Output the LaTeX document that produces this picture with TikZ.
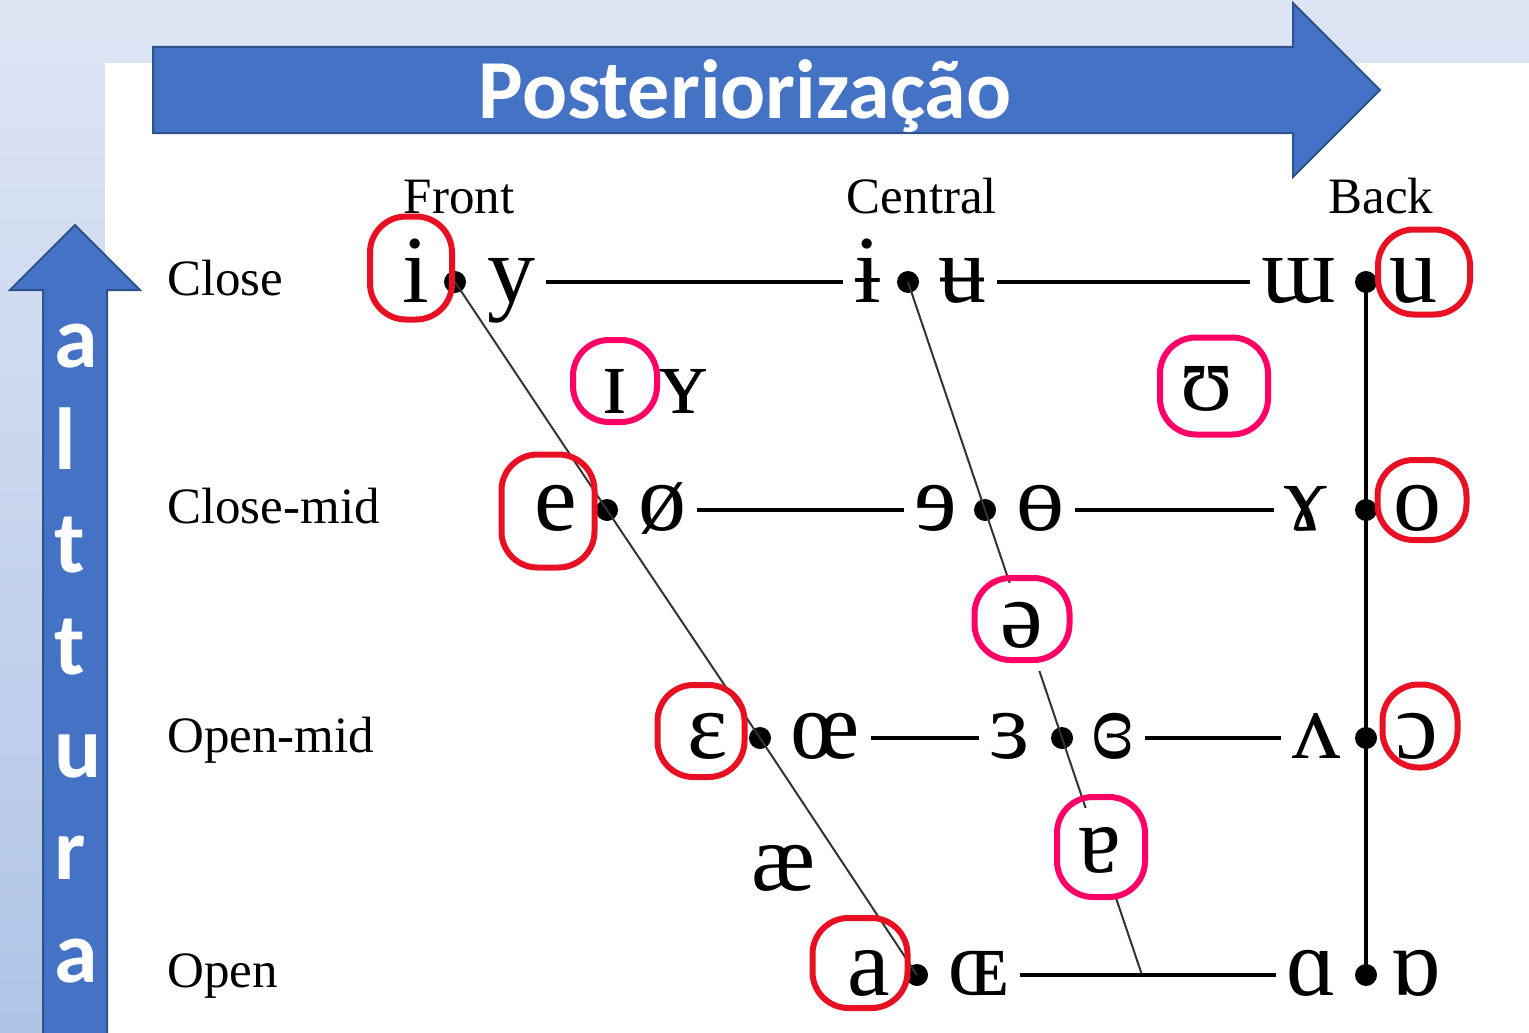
\documentclass[tikz,border=0pt]{standalone}
\usepackage{fontspec}
\setmainfont{Liberation Serif}
\newfontfamily\calibri{Carlito}
\definecolor{slideblue}{HTML}{4472C4}
\definecolor{slideedge}{HTML}{2F528F}
\definecolor{inkred}{HTML}{E81123}
\definecolor{inkpink}{HTML}{FF0066}
\newcommand{\ipa}{\fontsize{96}{96}\selectfont}

\begin{document}
\begin{tikzpicture}[x=1pt,y=-1pt]
                        \tikzstyle{sym}=[font=\ipa, text height=64pt, text depth=24pt, inner xsep=11pt, inner ysep=0pt]
                        \tikzstyle{dot}=[circle, fill=black, inner sep=0pt, minimum size=22pt]
                        \tikzstyle{label}=[font=\fontsize{51}{51}\selectfont, inner sep=0pt]
                        \tikzstyle{rowline}=[line width=3.5pt]
                        \tikzstyle{slant}=[line width=2pt, black!80]
                        \tikzstyle{ring}=[draw, line width=6pt, rounded corners=36pt, inner sep=0pt]
                        \tikzstyle{bigarrow}=[fill=slideblue, draw=slideedge, line width=2pt, line join=miter]
                        \tikzstyle{alt}=[font=\calibri\bfseries\fontsize{88}{88}\selectfont, text=white, inner sep=0pt, anchor=base west]
                        \useasboundingbox (0,0) rectangle (1529,1033);
                        % slide background
                        \fill[top color=slideblue!18, bottom color=slideblue!42] (0,0) rectangle (1529,1033);
                        \fill[white] (105,63) rectangle (1529,1033);
                        % arrows
                        \draw[bigarrow] (153,47) -- (1293,47) -- (1293,3) -- (1380,90) -- (1293,177) -- (1293,133) -- (153,133) -- cycle;
                        \node[font=\calibri\bfseries\fontsize{84}{84}\selectfont, text=white, inner sep=0pt, anchor=base] (title) at (745,118) {Posteriorização};
                        \draw[bigarrow] (43,1045) -- (43,290) -- (10,290) -- (75,225) -- (140,290) -- (107,290) -- (107,1045);
                        \node[alt] (alt1) at (54,367) {a};
                        \node[alt] (alt2) at (54,469.5) {l};
                        \node[alt] (alt3) at (54,572) {t};
                        \node[alt] (alt4) at (54,674.5) {t};
                        \node[alt] (alt5) at (54,777) {u};
                        \node[alt] (alt6) at (54,879.5) {r};
                        \node[alt] (alt7) at (54,982) {a};
                        % column and row labels
                        \node[label, anchor=base] (front) at (459,213) {Front};
                        \node[label, anchor=base] (central) at (922,213) {Central};
                        \node[label, anchor=base] (back) at (1381,213) {Back};
                        \node[label, anchor=base west] (close) at (167,295) {Close};
                        \node[label, anchor=base west] (closemid) at (167,523) {Close-mid};
                        \node[label, anchor=base west] (openmid) at (167,752) {Open-mid};
                        \node[label, anchor=base west] (open) at (167,987) {Open};
                        % dots
                        \node[dot] (cf) at (455,282) {};
                        \node[dot] (cc) at (908,282) {};
                        \node[dot] (cb) at (1366,282) {};
                        \node[dot] (cmf) at (607,510) {};
                        \node[dot] (cmc) at (985,510) {};
                        \node[dot] (cmb) at (1366,510) {};
                        \node[dot] (omf) at (760,738) {};
                        \node[dot] (omc) at (1062,738) {};
                        \node[dot] (omb) at (1366,738) {};
                        \node[dot] (of) at (917,975) {};
                        \node[dot] (ob) at (1366,975) {};
                        \coordinate (oc) at (1142,975);
                        \draw[slant] (cf.center) -- (cmf.center) -- (omf.center) -- (of.center);
                        \draw[slant] (cc.center) -- (cmc.center) -- (omc.center) -- (oc);
                        \draw[rowline] (cb.center) -- (ob.center);
                        % vowels
                        \node[sym] (i) at (416,282) {i};
                        \node[sym] (y) at (511,282) {y};
                        \node[sym] (barI) at (868,282) {ɨ};
                        \node[sym] (barU) at (962,282) {ʉ};
                        \node[sym] (turnM) at (1299,282) {ɯ};
                        \node[sym] (u) at (1413,282) {u};
                        \node[sym] (smallI) at (615,393) {ɪ};
                        \node[sym] (smallY) at (683,393) {ʏ};
                        \node[sym] (upsilon) at (1207,390) {ʊ};
                        \node[sym] (e) at (556,510) {e};
                        \node[sym] (oslash) at (662,510) {ø};
                        \node[sym] (revE) at (936,510) {ɘ};
                        \node[sym] (barO) at (1040,510) {ɵ};
                        \node[sym] (gamma) at (1306,510) {ɤ};
                        \node[sym] (o) at (1417,510) {o};
                        \node[sym, fill=white, inner xsep=4pt] (schwa) at (1022,627) {ə};
                        \node[sym] (epsilon) at (708,738) {ɛ};
                        \node[sym] (oe) at (825,738) {œ};
                        \node[sym] (revEps) at (1010,738) {ɜ};
                        \node[sym] (closedRevEps) at (1113,738) {ɞ};
                        \node[sym] (wedge) at (1316,738) {ʌ};
                        \node[sym] (openO) at (1417,738) {ɔ};
                        \node[sym] (ash) at (784,870) {æ};
                        \node[sym, fill=white, inner xsep=4pt] (turnA) at (1100,852) {ɐ};
                        \node[sym] (a) at (869,975) {a};
                        \node[sym] (OE) at (979,975) {ɶ};
                        \node[sym] (alpha) at (1312,975) {ɑ};
                        \node[sym] (turnAlpha) at (1416,975) {ɒ};
                        \draw[rowline] (y) -- (barI);
                        \draw[rowline] (barU) -- (turnM);
                        \draw[rowline] (oslash) -- (revE);
                        \draw[rowline] (barO) -- (gamma);
                        \draw[rowline] (oe) -- (revEps);
                        \draw[rowline] (closedRevEps) -- (wedge);
                        \draw[rowline] (OE) -- (alpha);
                        % hand-drawn marks
                        \node[ring, inkred, minimum width=82pt, minimum height=103pt] (ring-i) at (411,268) {};
                        \node[ring, inkred, minimum width=92pt, minimum height=85pt] (ring-u) at (1424,272) {};
                        \node[ring, inkpink, minimum width=84pt, minimum height=82pt] (ring-smallI) at (615,381) {};
                        \node[ring, inkpink, minimum width=108pt, minimum height=97pt] (ring-upsilon) at (1214,386) {};
                        \node[ring, inkred, minimum width=93pt, minimum height=113pt] (ring-e) at (548,511) {};
                        \node[ring, inkred, minimum width=89pt, minimum height=80pt] (ring-o) at (1422,500) {};
                        \node[ring, inkpink, minimum width=95pt, minimum height=82pt] (ring-schwa) at (1022,619) {};
                        \node[ring, inkred, minimum width=87pt, minimum height=92pt] (ring-epsilon) at (701,731) {};
                        \node[ring, inkred, minimum width=75pt, minimum height=83pt] (ring-openO) at (1420,726) {};
                        \node[ring, inkpink, minimum width=88pt, minimum height=100pt] (ring-turnA) at (1101,847) {};
                        \node[ring, inkred, minimum width=95pt, minimum height=90pt] (ring-a) at (860,963) {};
                    \end{tikzpicture}
\end{document}
